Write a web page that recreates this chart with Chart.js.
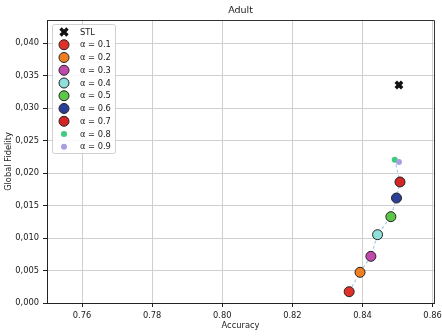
<!DOCTYPE html>
<html>
<head>
<meta charset="utf-8">
<script src="https://cdn.jsdelivr.net/npm/chart.js@4"></script>
<style>
  html, body { margin: 0; padding: 0; background: #fff; }
  #wrap { width: 442px; height: 336px; }
</style>
</head>
<body>
<div id="wrap"><canvas id="chart" width="442" height="336"></canvas></div>
<script>
// values
const alphaLabels = ["α = 0.1", "α = 0.2", "α = 0.3", "α = 0.4", "α = 0.5", "α = 0.6", "α = 0.7", "α = 0.8", "α = 0.9"];
const alphaAccuracy = [0.8362, 0.8393, 0.8424, 0.8443, 0.8481, 0.8497, 0.8507, 0.8492, 0.8504];
const alphaFidelity = [0.00174, 0.00472, 0.00718, 0.01051, 0.01328, 0.01615, 0.01862, 0.02205, 0.02169];
const stlAccuracy = [0.8504];
const stlFidelity = [0.03354];
const xTicks = [0.76, 0.78, 0.80, 0.82, 0.84, 0.86];
const yTicks = [0, 0.005, 0.010, 0.015, 0.020, 0.025, 0.030, 0.035, 0.040];

const alphaColors = ["#e0302a", "#f07f22", "#c04aac", "#8ee0da", "#5cc648", "#2c3f98", "#d42424", "#3ccc7c", "#a89ee0"];
const alphaRadius = [5, 5, 5, 5, 5, 5, 5, 3, 3];

const FONT = "'DejaVu Sans', sans-serif";

document.addEventListener("DOMContentLoaded", function () {
    let datasets = [];

    datasets.push({
        type: "line",
        label: "trend",
        data: alphaAccuracy.map((x, i) => ({ x: x, y: alphaFidelity[i] })),
        borderColor: "#a8cbe8",
        borderWidth: 1.2,
        borderDash: [3, 2.5],
        pointRadius: 0,
        fill: false,
        order: 100
    });

    datasets.push({
        label: "STL",
        data: stlAccuracy.map((x, i) => ({ x: x, y: stlFidelity[i] })),
        pointStyle: "crossRot",
        pointRadius: 4.5,
        borderColor: "#111",
        backgroundColor: "#111",
        pointBorderWidth: 3.5,
        order: -20
    });

    alphaLabels.forEach(function (label, i) {
        let big = alphaRadius[i] > 4;
        datasets.push({
            label: label,
            data: [{ x: alphaAccuracy[i], y: alphaFidelity[i] }],
            pointStyle: "circle",
            pointRadius: alphaRadius[i],
            backgroundColor: alphaColors[i],
            borderColor: big ? "#222" : alphaColors[i],
            pointBorderWidth: big ? 1 : 0,
            order: -i
        });
    });

    // plot title, top/right spines and inner legend
    const decorations = {
        id: "decorations",
        afterDraw(chart) {
            let ctx = chart.ctx;
            let a = chart.chartArea;
            ctx.save();
            ctx.strokeStyle = "#333";
            ctx.lineWidth = 1;
            ctx.beginPath();
            ctx.moveTo(a.left, a.top + 0.5);
            ctx.lineTo(a.right + 0.5, a.top + 0.5);
            ctx.lineTo(a.right + 0.5, a.bottom);
            ctx.stroke();

            ctx.fillStyle = "#222";
            ctx.font = "9.5px " + FONT;
            ctx.textAlign = "center";
            ctx.textBaseline = "middle";
            ctx.fillText("Adult", (a.left + a.right) / 2, 11);

            // legend box
            let bx = 52.5, by = 24.5, bw = 63, bh = 129;
            ctx.fillStyle = "rgba(255,255,255,0.85)";
            ctx.strokeStyle = "#d0d0d0";
            ctx.beginPath();
            ctx.roundRect(bx, by, bw, bh, 2);
            ctx.fill();
            ctx.stroke();

            let rowY = 32, step = 12.75, mx = 64, tx = 80;
            ctx.font = "8.3px " + FONT;
            ctx.textAlign = "left";
            datasets.slice(1).forEach(function (ds, i) {
                let y = rowY + i * step;
                if (ds.pointStyle === "crossRot") {
                    ctx.strokeStyle = "#111";
                    ctx.lineWidth = 3.2;
                    ctx.beginPath();
                    ctx.moveTo(mx - 3.5, y - 3.5); ctx.lineTo(mx + 3.5, y + 3.5);
                    ctx.moveTo(mx + 3.5, y - 3.5); ctx.lineTo(mx - 3.5, y + 3.5);
                    ctx.stroke();
                } else {
                    ctx.beginPath();
                    ctx.arc(mx, y, ds.pointRadius, 0, Math.PI * 2);
                    ctx.fillStyle = ds.backgroundColor;
                    ctx.fill();
                    if (ds.pointBorderWidth > 0) {
                        ctx.strokeStyle = ds.borderColor;
                        ctx.lineWidth = ds.pointBorderWidth;
                        ctx.stroke();
                    }
                }
                ctx.fillStyle = "#222";
                ctx.fillText(ds.label, tx, y + 0.5);
            });
            ctx.restore();
        }
    };

    let ctx = document.getElementById("chart").getContext("2d");
    new Chart(ctx, {
        type: "scatter",
        data: { datasets: datasets },
        options: {
            responsive: false,
            animation: false,
            devicePixelRatio: 1,
            layout: { padding: { top: 20, right: 8, left: 2, bottom: 0 } },
            plugins: {
                legend: { display: false },
                tooltip: { enabled: false },
                title: { display: false }
            },
            scales: {
                x: {
                    type: "linear",
                    min: 0.75,
                    max: 0.8604,
                    afterBuildTicks: axis => { axis.ticks = xTicks.map(v => ({ value: v })); },
                    afterFit: axis => {
                        axis.height = 33;
                        axis.paddingLeft = 0;
                        axis.paddingRight = 0;
                    },
                    grid: { color: "#cfcfcf", lineWidth: 1, tickColor: "#222", tickLength: 4 },
                    border: { color: "#222", width: 1 },
                    ticks: {
                        color: "#222",
                        font: { family: FONT, size: 8.3 },
                        padding: 4,
                        maxRotation: 0,
                        callback: v => v.toFixed(2)
                    },
                    title: {
                        display: true,
                        text: "Accuracy",
                        color: "#222",
                        font: { family: FONT, size: 8.3 },
                        padding: { top: 0, bottom: 5 }
                    }
                },
                y: {
                    type: "linear",
                    min: 0,
                    max: 0.04354,
                    afterBuildTicks: axis => { axis.ticks = yTicks.map(v => ({ value: v })); },
                    afterFit: axis => {
                        axis.width = 45;
                        axis.paddingTop = 0;
                        axis.paddingBottom = 0;
                    },
                    grid: { color: "#cfcfcf", lineWidth: 1, tickColor: "#222", tickLength: 4 },
                    border: { color: "#222", width: 1 },
                    ticks: {
                        color: "#222",
                        font: { family: FONT, size: 8.3 },
                        padding: 4,
                        callback: v => v.toFixed(3).replace(".", ",")
                    },
                    title: {
                        display: true,
                        text: "Global Fidelity",
                        color: "#222",
                        font: { family: FONT, size: 8.3 },
                        padding: { top: 2, bottom: 0 }
                    }
                }
            }
        },
        plugins: [decorations]
    });
});
</script>
</body>
</html>
